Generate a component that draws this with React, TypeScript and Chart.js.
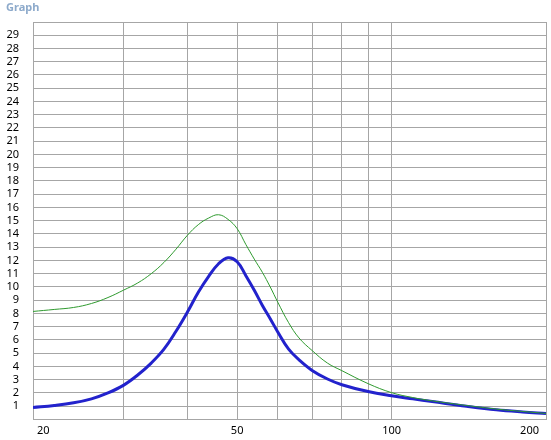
import React, { useEffect, useRef } from "react";
import { Chart, registerables } from "chart.js";

Chart.register(...registerables);

const TITLE = "Graph";
const freqs = [20, 22, 24, 26, 28, 30, 32, 34, 36, 38, 40, 42, 44, 46, 48, 50, 52, 54, 56, 58, 60, 63, 66, 70, 75, 80, 90, 100, 110, 120, 140, 160, 180, 200];
const blueValues = [0.9, 1.05, 1.25, 1.55, 2.0, 2.57, 3.35, 4.25, 5.3, 6.65, 8.1, 9.6, 10.8, 11.75, 12.2, 11.9, 10.85, 9.75, 8.6, 7.6, 6.6, 5.3, 4.5, 3.7, 3.05, 2.62, 2.1, 1.78, 1.55, 1.35, 0.99, 0.72, 0.56, 0.45];
const greenValues = [8.15, 8.3, 8.45, 8.75, 9.2, 9.75, 10.3, 11.0, 11.85, 12.85, 13.9, 14.7, 15.2, 15.45, 15.1, 14.4, 13.2, 12.1, 11.1, 10.0, 8.85, 7.3, 6.15, 5.2, 4.25, 3.68, 2.7, 2.02, 1.65, 1.4, 1.05, 0.78, 0.6, 0.45];
const xGridValues = [20, 30, 40, 50, 60, 70, 80, 90, 100, 200];
const xLabelValues = [20, 50, 100, 200];
const yMin = 0;
const yMax = 30;

const FONT = "'Noto Sans', 'Liberation Sans', sans-serif";

export default function App() {
  const ref = useRef<HTMLCanvasElement | null>(null);
  useEffect(() => {
    if (!ref.current) return;
    const extras = {
      id: "extras",
      afterDraw(chart: any) {
        const ctx = chart.ctx;
        const area = chart.chartArea;
        const xs = chart.scales.x;
        ctx.save();
        ctx.fillStyle = "#8daacb";
        ctx.font = `bold 11px ${FONT}`;
        ctx.textAlign = "left";
        ctx.textBaseline = "alphabetic";
        ctx.fillText(TITLE, 6, 11);
        ctx.fillStyle = "#000";
        ctx.font = `11px ${FONT}`;
        ctx.textBaseline = "middle";
        for (const v of xLabelValues) {
          const s = String(v);
          const w = ctx.measureText(s).width;
          const px = xs.getPixelForValue(v);
          let left = px - w / 2;
          left = Math.max(left, area.left + 4);
          left = Math.min(left, area.right - 7 - w);
          ctx.fillText(s, left, 431);
        }
        ctx.restore();
      },
    };
    const chart = new Chart(ref.current, {
      type: "scatter",
      data: {
        datasets: [
          {
            label: "green",
            data: freqs.map((f, i) => ({ x: f, y: greenValues[i] })),
            showLine: true,
            borderColor: "#2f9a2f",
            borderWidth: 1,
            pointRadius: 0,
            tension: 0.4,
          },
          {
            label: "blue",
            data: freqs.map((f, i) => ({ x: f, y: blueValues[i] })),
            showLine: true,
            borderColor: "#2222cc",
            borderWidth: 3,
            pointRadius: 0,
            tension: 0.4,
          },
        ],
      },
      options: {
        animation: false,
        responsive: false,
        devicePixelRatio: 1,
        layout: { padding: { top: 22, right: 5, left: 0, bottom: 0 } },
        plugins: { legend: { display: false }, title: { display: false }, tooltip: { enabled: false } },
        scales: {
          x: {
            type: "logarithmic",
            min: 20,
            max: 200,
            afterBuildTicks: (scale: any) => {
              scale.ticks = xGridValues.map((v) => ({ value: v }));
            },
            afterFit: (scale: any) => {
              scale.height = 18;
            },
            ticks: { display: false },
            grid: { color: "#a6a6a6", lineWidth: 1, drawTicks: false },
            border: { color: "#a6a6a6" },
          },
          y: {
            min: yMin,
            max: yMax,
            afterFit: (scale: any) => {
              scale.width = 33;
            },
            ticks: {
              stepSize: 1,
              autoSkip: false,
              padding: 14,
              color: "#000",
              font: { family: FONT, size: 11 },
              callback: (v: any) => (v === yMin || v === yMax ? "" : String(v)),
            },
            grid: { color: "#a6a6a6", lineWidth: 1, drawTicks: false },
            border: { color: "#a6a6a6" },
          },
        },
      },
      plugins: [extras],
    } as any);
    return () => chart.destroy();
  }, []);
  return (
    <div style={{ position: "absolute", left: 0, top: 0, width: 551, height: 440, background: "#fff" }}>
      <canvas ref={ref} width={551} height={440} style={{ display: "block" }} />
    </div>
  );
}
